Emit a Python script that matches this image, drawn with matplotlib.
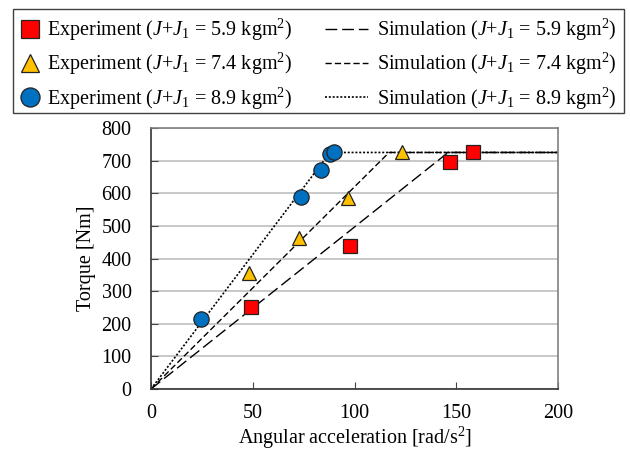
import numpy as np
import matplotlib
matplotlib.use("Agg")
import matplotlib.pyplot as plt
from matplotlib.patches import Rectangle

plt.rcParams['font.family'] = ['Liberation Serif', 'DejaVu Serif']
plt.rcParams['mathtext.fontset'] = 'custom'
plt.rcParams['mathtext.rm'] = 'Liberation Serif'
plt.rcParams['mathtext.it'] = 'Liberation Serif:italic'

# experiment data (angular acceleration [rad/s^2], torque [Nm])
exp59_x = [49, 98, 147, 158]
exp59_y = [251, 438, 697, 726]
exp74_x = [48.3, 72.6, 96.8, 123.3]
exp74_y = [355, 462, 585, 725]
exp89_x = [24.4, 73.5, 83.4, 88, 89.9]
exp89_y = [215, 587, 672, 721, 727]

# simulation curves
sim59_x = [0, 146, 200]
sim59_y = [0, 725, 725]
sim74_x = [0, 117, 200]
sim74_y = [0, 725, 725]
sim89_x = [0, 88, 200]
sim89_y = [0, 725, 725]

W, H = 630, 455
fig = plt.figure(figsize=(W / 100, H / 100), dpi=100)
ax = fig.add_axes([151 / W, 1 - 389 / H, 407 / W, 261 / H])

fs = 14.5
lab = r'($J$+$J_\mathit{1}$ = %s kgm$^2$)'

s1, = ax.plot(sim59_x, sim59_y, color='black', lw=1.0, dashes=(8.5, 3.5), zorder=2)
s2, = ax.plot(sim74_x, sim74_y, color='black', lw=1.0, dashes=(4.5, 2.2), zorder=2)
s3, = ax.plot(sim89_x, sim89_y, color='black', lw=1.2, dashes=(1.2, 1.1), zorder=2)

e1, = ax.plot(exp59_x, exp59_y, 's', ms=10, mfc='#FF0000', mec='#222222', mew=0.9, zorder=3)
e2, = ax.plot(exp74_x, exp74_y, '^', ms=10.5, mfc='#FFC000', mec='#222222', mew=0.9, zorder=3)
e3, = ax.plot(exp89_x, exp89_y, 'o', ms=11, mfc='#0070C0', mec='#222222', mew=0.9, zorder=3)

ax.set_xlim(0, 200)
ax.set_ylim(0, 800)
ax.set_xticks(np.arange(0, 201, 50))
ax.set_yticks(np.arange(0, 801, 100))
ax.yaxis.grid(True, color='#BFBFBF', lw=1.2)
ax.set_axisbelow(True)
ax.tick_params(direction='in', labelsize=fs, length=5, color='#444444')
ax.tick_params(axis='x', pad=11)
ax.tick_params(axis='y', pad=14)
for s in ['left', 'bottom']:
    ax.spines[s].set_color('#333333')
    ax.spines[s].set_linewidth(1.2)
for s in ['top', 'right']:
    ax.spines[s].set_color('#808080')
    ax.spines[s].set_linewidth(1.2)
ax.set_xlabel(r'Angular acceleration [rad/s$^2$]', fontsize=fs, labelpad=1)
ax.set_ylabel('Torque [Nm]', fontsize=fs, labelpad=4)

# legend: two columns with different handle lengths, one shared frame
exp_labels = ['Experiment ' + lab % v for v in ['5.9', '7.4', '8.9']]
sim_labels = ['Simulation ' + lab % v for v in ['5.9', '7.4', '8.9']]
leg1 = fig.legend([e1, e2, e3], exp_labels, loc='upper left',
                  bbox_to_anchor=(20 / W, 1 - 17 / H), frameon=False, fontsize=fs,
                  handlelength=1.0, handletextpad=0.35, labelspacing=0.40,
                  borderpad=0, borderaxespad=0, markerscale=1.25)
leg2 = fig.legend([s1, s2, s3], sim_labels, loc='upper left',
                  bbox_to_anchor=(325 / W, 1 - 17 / H), frameon=False, fontsize=fs,
                  handlelength=2.15, handletextpad=0.45, labelspacing=0.40,
                  borderpad=0, borderaxespad=0)
fig.add_artist(Rectangle((13 / W, 1 - 113 / H), 611 / W, 104 / H, transform=fig.transFigure,
                         fill=False, edgecolor='#404040', lw=1.0))

fig.savefig('out.png', dpi=100)
